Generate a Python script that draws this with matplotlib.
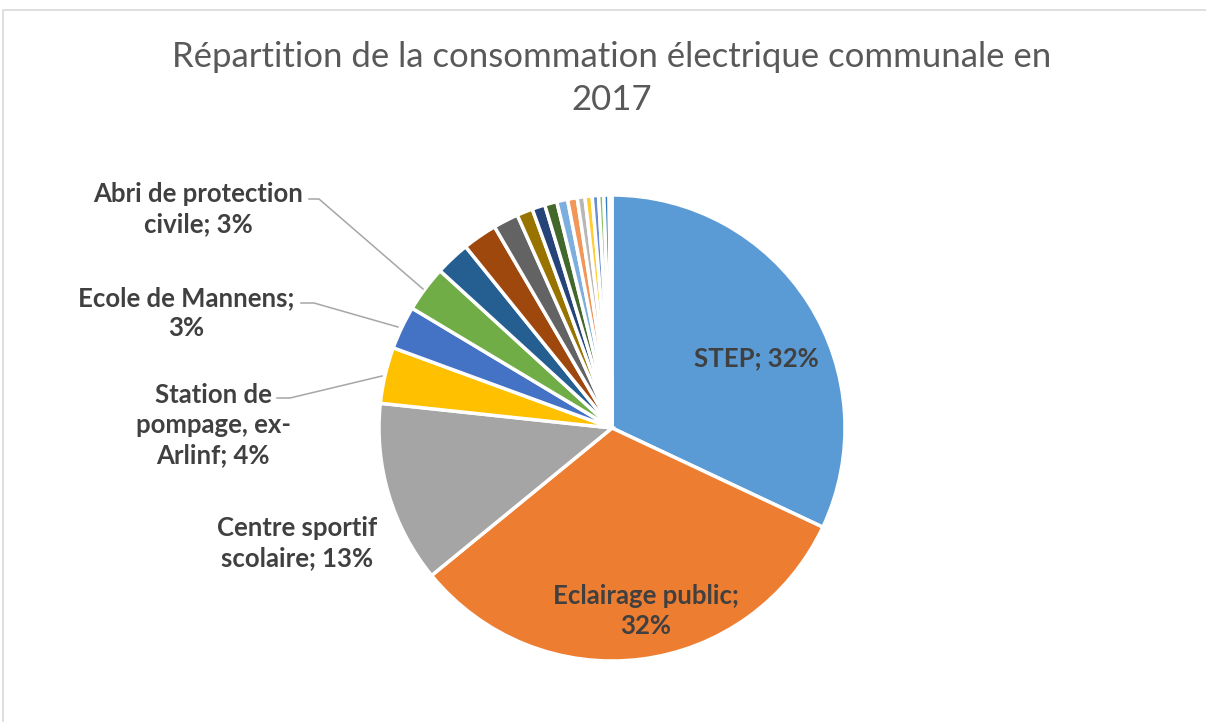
import matplotlib
matplotlib.use("Agg")
import matplotlib.pyplot as plt

# données (parts en %)
categories = ["STEP", "Eclairage public", "Centre sportif scolaire",
              "Station de pompage, ex-Arlinf", "Ecole de Mannens",
              "Abri de protection civile"] + ["autre %d" % i for i in range(1, 15)]
values = [32.0, 32.1, 12.6, 3.9, 3.0, 3.2,
          2.4, 2.4, 1.75, 1.1, 0.9, 0.85, 0.75, 0.67, 0.53, 0.5, 0.44, 0.36, 0.36, 0.2]
pcts = ["32%", "32%", "13%", "4%", "3%", "3%"]
colors = ["#5B9BD5", "#ED7D31", "#A5A5A5", "#FFC000", "#4472C4", "#70AD47",
          "#255E91", "#9E480E", "#636363", "#997300", "#264478", "#43682B",
          "#7CAFDD", "#F1975A", "#B7B7B7", "#FFCD33", "#698ED0", "#8CC168",
          "#327DC2", "#D26012"]

W, H = 1206, 722
fig = plt.figure(figsize=(W / 100, H / 100), dpi=100)
ax = fig.add_axes([0, 0, 1, 1])

def py(y):
    return H - y

cx, cy, R = 612, 428, 233
ax.pie(values, colors=colors, startangle=90, counterclock=False,
       center=(cx, py(cy)), radius=R,
       wedgeprops=dict(edgecolor="white", linewidth=2.5))
ax.set_xlim(0, W)
ax.set_ylim(0, H)
ax.set_aspect("equal")
ax.axis("off")

# cadre
ax.plot([3, 3, W], [py(H), py(10), py(10)], color="#D9D9D9", lw=1.2, clip_on=False)

# titre
tkw = dict(ha="center", va="center", color="#595959", fontsize=25, family="Lato")
ax.text(612, py(57), "Répartition de la consommation électrique communale en", **tkw)
ax.text(612, py(100), "2017", **tkw)

lkw = dict(ha="center", va="center", color="#404040", fontsize=18.5,
           fontweight="bold", family="Lato", linespacing=1.3)

# étiquettes intérieures
ax.text(756, py(358), "%s; %s" % (categories[0], pcts[0]), **lkw)
ax.text(646, py(611), "Eclairage public;\n%s" % pcts[1], **lkw)

# étiquettes extérieures
ax.text(297, py(543), "Centre sportif\nscolaire; %s" % pcts[2], **lkw)
ax.text(213, py(425), "Station de\npompage, ex-\nArlinf; %s" % pcts[3], **lkw)
ax.text(186, py(313), "Ecole de Mannens;\n%s" % pcts[4], **lkw)
ax.text(198, py(209), "Abri de protection\ncivile; %s" % pcts[5], **lkw)

# lignes de rappel
lc = dict(color="#A6A6A6", lw=1.1)
ax.plot([309, 319, 423], [py(199), py(199), py(289)], **lc)
ax.plot([301, 314, 398], [py(303), py(303), py(327)], **lc)
ax.plot([277, 290, 382], [py(398), py(398), py(376)], **lc)

plt.savefig("out.png", dpi=100)
